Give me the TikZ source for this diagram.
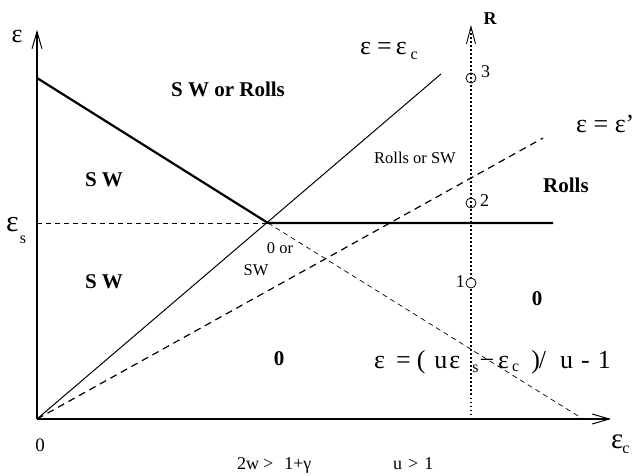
\documentclass[tikz,border=0pt]{standalone}
\usepackage{fontspec}
\setmainfont{Liberation Serif}
\usetikzlibrary{arrows.meta}
\newcommand{\lowsub}[2][4pt]{\raisebox{-#1}{\fontsize{16}{16}\selectfont #2}}
\newcommand{\hs}[1]{\hspace*{#1}}
\begin{document}
\begin{tikzpicture}[x=1pt,y=-1pt,
  axis/.style={line width=1.6pt,-{Straight Barb[length=17pt,width=10pt,line width=1pt]}},
  thickline/.style={line width=2.2pt},
  thinline/.style={line width=1pt},
  bigdash/.style={line width=1.2pt,dash pattern=on 7pt off 5pt},
  smalldash/.style={line width=0.7pt,dash pattern=on 5pt off 4pt},
  esdash/.style={line width=0.9pt,dash pattern=on 5pt off 4pt},
  rline/.style={line width=1.7pt,dash pattern=on 1.5pt off 2.5pt,
    -{Straight Barb[length=17pt,width=9pt,line width=0.9pt]}},
  pt/.style={circle,draw,line width=0.8pt,fill=white,inner sep=0pt,minimum size=10pt},
  bl/.style={font=\fontsize{21}{24}\selectfont\bfseries,anchor=base,inner sep=0pt},
  sm/.style={font=\fontsize{16.5}{19}\selectfont,anchor=base,inner sep=0pt},
  num/.style={font=\fontsize{18}{21}\selectfont,anchor=base,inner sep=0pt},
  gr/.style={font=\fontsize{26}{28}\selectfont,inner sep=0pt}]
\useasboundingbox (0,0) rectangle (633,476);
% coordinates
\coordinate (O) at (37,419);
\coordinate (Ytip) at (37,30);
\coordinate (Xtip) at (611,419);
\coordinate (Ytop) at (37,78);
\coordinate (P) at (268,223);
\coordinate (Hend) at (553,223);
\coordinate (Es) at (37,223);
\coordinate (Cend) at (441,74);
\coordinate (Dend) at (543,138);
\coordinate (Fend) at (583,419);
\coordinate (Rbase) at (471,419);
\coordinate (Rtip) at (471,25);
% lines
\draw[esdash] (Es) -- (P);
\draw[smalldash] (P) -- (Fend);
\draw[bigdash] (O) -- (Dend);
\draw[thinline] (O) -- (Cend);
\draw[thickline] (Ytop) -- (P) -- (Hend);
\draw[rline] (Rbase) -- (Rtip);
\draw[axis] (O) -- (Ytip);
\draw[axis] (O) -- (Xtip);
% points on R
\node[pt,fill=none] (c3) at (471,78) {};
\node[pt,fill=none] (c2) at (471,203) {};
\node[pt] (c1) at (471,283) {};
\node[num,anchor=base west] (n3) at (481,78) {3};
\node[num,anchor=base west] (n2) at (480,207) {2};
\node[num,anchor=base east] (n1) at (465,288) {1};
\node[font=\fontsize{18}{21}\selectfont\bfseries,anchor=base,inner sep=0pt] (R) at (490,25) {R};
% axis labels
\node[gr,anchor=base] (ey) at (17,43) {ε};
\node[gr,font=\fontsize{30}{32}\selectfont,anchor=base west] (es) at (6,232) {ε\hs{1pt}\lowsub[12pt]{s}};
\node[gr,font=\fontsize{29}{32}\selectfont,anchor=base west] (ec) at (611,449) {ε\hs{-1pt}\lowsub[5pt]{c}};
\node[font=\fontsize{19}{21}\selectfont,anchor=base,inner sep=0pt] (zero) at (40,451) {0};
\node[num,anchor=base west] (cond1) at (237,469) {2w\hs{4pt}>\hs{11pt}1+γ};
\node[num,anchor=base west] (cond2) at (393,469) {u\hs{6pt}>\hs{6pt}1};
% region labels
\node[bl] (swr) at (228,97) {S W or Rolls};
\node[bl] (sw1) at (104,187) {S W};
\node[bl] (sw2) at (104,289) {S W};
\node[sm] (zor) at (280,254) {0 or};
\node[sm] (swm) at (256,276) {SW};
\node[bl] (z1) at (279,366) {0};
\node[sm] (rsw) at (415,164) {Rolls or SW};
\node[bl] (rolls) at (566,193) {Rolls};
\node[bl] (z2) at (537,306) {0};
% line labels
\node[gr,anchor=base west] (lec) at (360,55) {ε\hs{6pt}=\hs{4pt}ε\hs{4pt}\lowsub[5pt]{c}};
\node[gr,anchor=base west] (lep) at (576,133) {ε = ε’};
\node[gr,anchor=base west] (form) at (374,369) {ε\hs{11pt}=\hs{6pt}(\hs{9pt}u\hs{2pt}ε\hs{12pt}\lowsub[4pt]{s}\hs{1pt}−\hs{4pt}ε\hs{3pt}\lowsub[3pt]{c}\hs{12pt})\hs{-1pt}/\hs{14pt}u\hs{8pt}-\hs{8pt}1};
\end{tikzpicture}
\end{document}
